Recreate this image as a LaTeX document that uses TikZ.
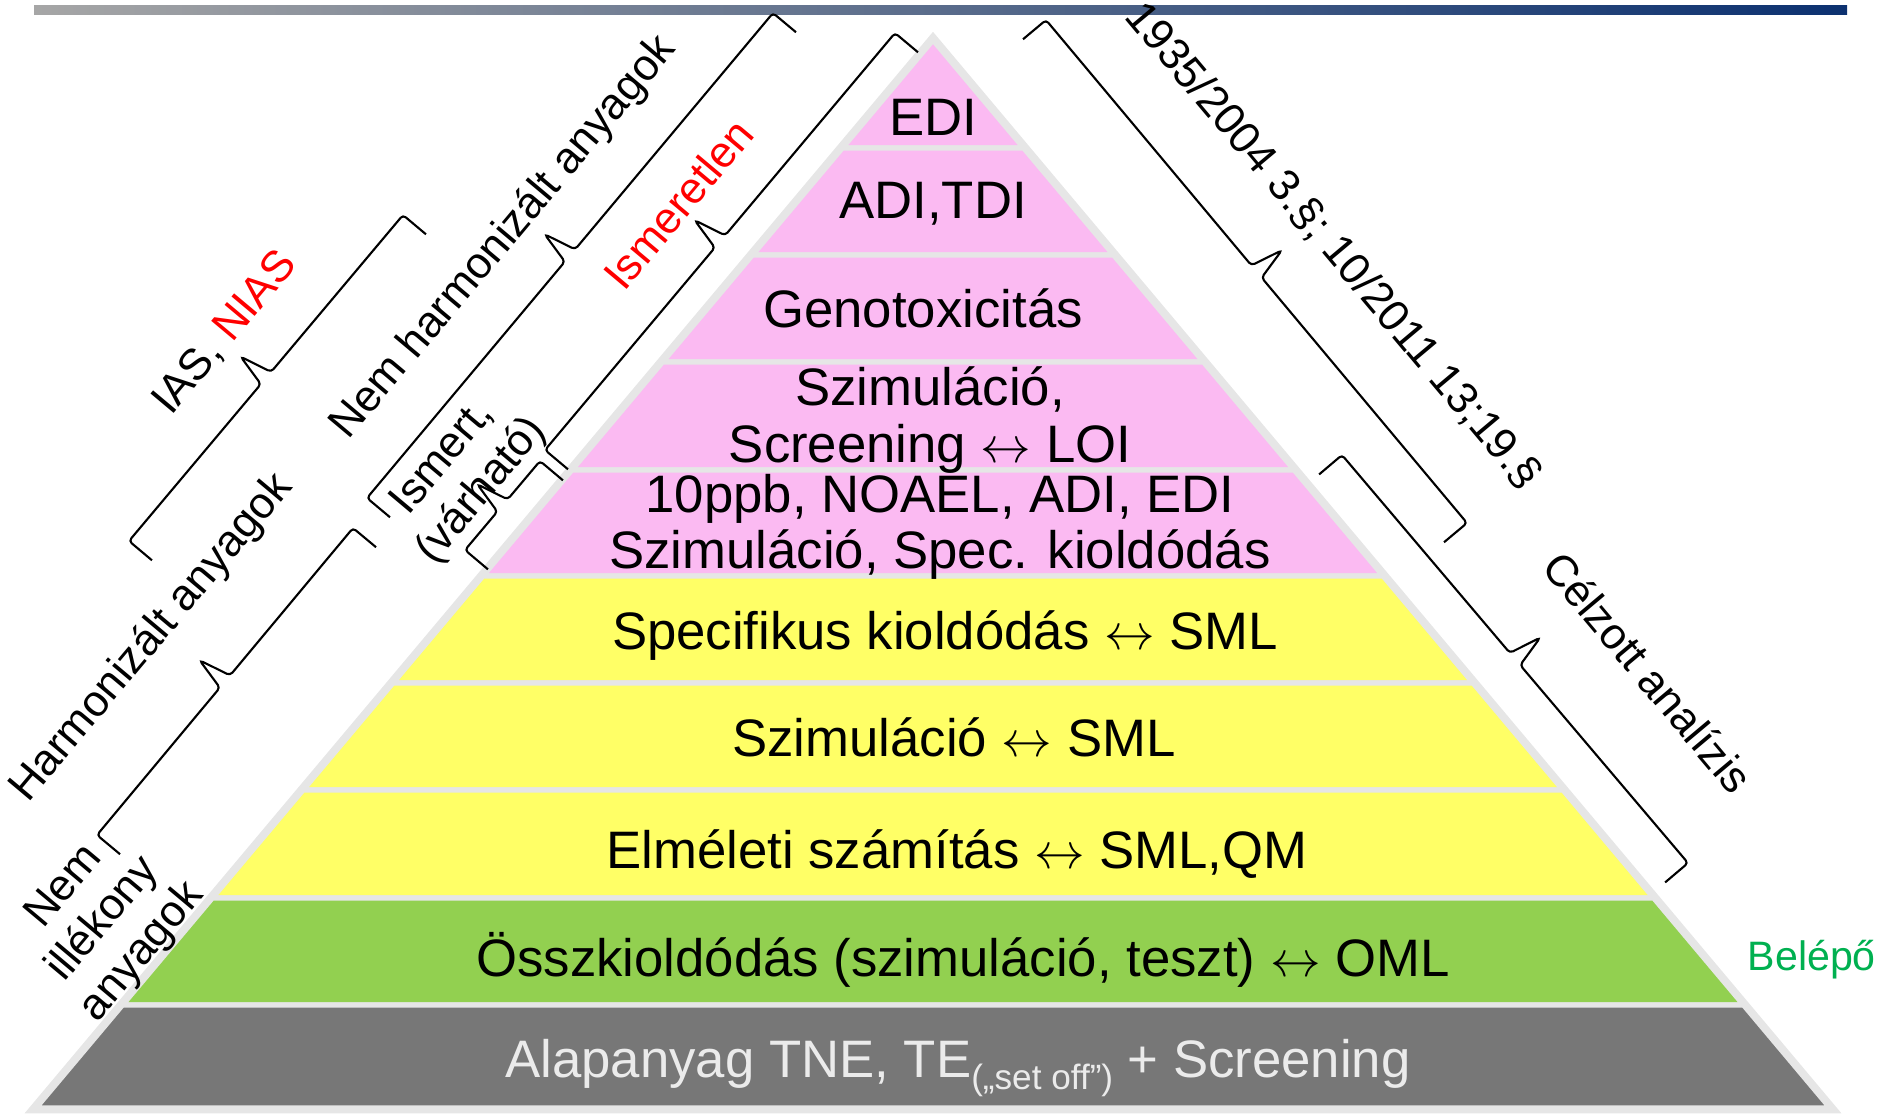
\documentclass[tikz,border=0pt]{standalone}
\usepackage{fontspec}
\setmainfont{Liberation Sans}
\usetikzlibrary{calc}

\definecolor{retegszurke}{HTML}{E6E6E6}
\definecolor{rozsaszin}{HTML}{FBBAF2}
\definecolor{sarga}{HTML}{FFFF66}
\definecolor{zold}{HTML}{92D050}
\definecolor{sotetszurke}{HTML}{777777}
\definecolor{felirat}{HTML}{EBEBEB}
\definecolor{belepo}{HTML}{00B050}
\definecolor{csikbal}{HTML}{A6A6A6}
\definecolor{csikjobb}{HTML}{0C3170}

% kapcsos zarojel #1-tol #2-ig, csucs a haladasi irany bal oldalan
\newcommand{\kapocs}[2]{%
  \draw[kapocsvonal] ($(#1)!3mm!-90:(#2)$) -- (#1)
    -- ($(#1)!0.5!(#2)!0.8mm!(#1)$) -- ($(#1)!0.5!(#2)!3.3mm!90:(#2)$)
    -- ($(#1)!0.5!(#2)!0.8mm!(#2)$) -- (#2) -- ($(#2)!3mm!90:(#1)$);%
}

\begin{document}
\begin{tikzpicture}[x=0.1mm, y=-0.1mm,
    reteg/.style={draw=retegszurke, line width=1.5pt},
    kapocsvonal/.style={black, line width=0.6pt, rounded corners=1pt},
    szoveg/.style={font=\fontsize{15}{16}\selectfont, inner sep=0pt},
    oldal/.style={font=\fontsize{12.5}{14.5}\selectfont, align=center, inner sep=0pt}]
  \useasboundingbox (0,0) rectangle (1880,1113);
  \shade[left color=csikbal, right color=csikjobb] (34,5) rectangle (1847,14);

  % piramis
  \draw[retegszurke, line width=3pt] (933,40) -- (1830.1,1108) -- (35.9,1108) -- cycle;
  \filldraw[reteg, fill=rozsaszin] (933,40) -- (1023.7,148) -- (842.3,148) -- cycle;
  \filldraw[reteg, fill=rozsaszin] (842.3,148) -- (1023.7,148) -- (1113.6,255) -- (752.4,255) -- cycle;
  \filldraw[reteg, fill=rozsaszin] (752.4,255) -- (1113.6,255) -- (1203.5,362) -- (662.5,362) -- cycle;
  \filldraw[reteg, fill=rozsaszin] (662.5,362) -- (1203.5,362) -- (1294.2,470) -- (571.8,470) -- cycle;
  \filldraw[reteg, fill=rozsaszin] (571.8,470) -- (1294.2,470) -- (1383.2,576) -- (482.8,576) -- cycle;
  \filldraw[reteg, fill=sarga] (482.8,576) -- (1383.2,576) -- (1473.1,683) -- (392.9,683) -- cycle;
  \filldraw[reteg, fill=sarga] (392.9,683) -- (1473.1,683) -- (1563,790) -- (303,790) -- cycle;
  \filldraw[reteg, fill=sarga] (303,790) -- (1563,790) -- (1653.7,898) -- (212.3,898) -- cycle;
  \filldraw[reteg, fill=zold] (212.3,898) -- (1653.7,898) -- (1743.6,1005) -- (122.4,1005) -- cycle;
  \filldraw[reteg, fill=sotetszurke] (122.4,1005) -- (1743.6,1005) -- (1830.1,1108) -- (35.9,1108) -- cycle;

  \node[szoveg, anchor=base] (edi) at (933,135) {EDI};
  \node[szoveg, anchor=base] (aditdi) at (933,218) {ADI,TDI};
  \node[szoveg, anchor=base] (geno) at (923,327) {Genotoxicitás};
  \node[szoveg, align=center] (szimloi) at (930,420) {Szimuláció,\\Screening $\leftrightarrow$ LOI};
  \node[szoveg, align=center] (noael) at (940,527) {10ppb, NOAEL, ADI, EDI\\Szimuláció, Spec. kioldódás};
  \node[szoveg, anchor=base] (spec) at (945,649) {Specifikus kioldódás $\leftrightarrow$ SML};
  \node[szoveg, anchor=base] (szimsml) at (954,756) {Szimuláció $\leftrightarrow$ SML};
  \node[szoveg, anchor=base] (elmelet) at (957,868) {Elméleti számítás $\leftrightarrow$ SML,QM};
  \node[szoveg, anchor=base] (ossz) at (963,976) {Összkioldódás (szimuláció, teszt) $\leftrightarrow$ OML};
  \node[szoveg, anchor=base, text=felirat] (alap) at (958,1077) {Alapanyag TNE, TE\raisebox{-3.5pt}{\fontsize{10}{12}\selectfont(„set off”)} + Screening};
  \node[anchor=base west, text=belepo, font=\fontsize{11.7}{14}\selectfont, inner sep=0pt] (belepo) at (1747,970) {Belépő};

  % zarojelek
  \kapocs{129,541}{403,215}
  \kapocs{367,498}{773,13}
  \kapocs{545,450}{895,33}
  \kapocs{465,550}{540,461}
  \kapocs{97,835}{353,528}
  \kapocs{1046,20}{1467,523}
  \kapocs{1342,455}{1688,863}

  \node[oldal, rotate=50] (iasnias) at (225,333) {IAS, \textcolor{red}{NIAS}};
  \node[oldal, rotate=50] (nemharm) at (504,238) {Nem harmonizált anyagok};
  \node[oldal, rotate=50, text=red] (ismeretlen) at (678,204) {Ismeretlen};
  \node[oldal, rotate=50] (ismert) at (463,475) {Ismert,\\(várható)};
  \node[oldal, rotate=50] (harm) at (152,638) {Harmonizált anyagok};
  \node[oldal, rotate=50] (nemill) at (104,920) {Nem\\illékony\\anyagok};
  \node[oldal, rotate=-50] (rendelet) at (1333,246) {1935/2004 3.§; 10/2011 13;19.§};
  \node[oldal, rotate=-50] (celzott) at (1648,672) {Célzott analízis};
\end{tikzpicture}
\end{document}
